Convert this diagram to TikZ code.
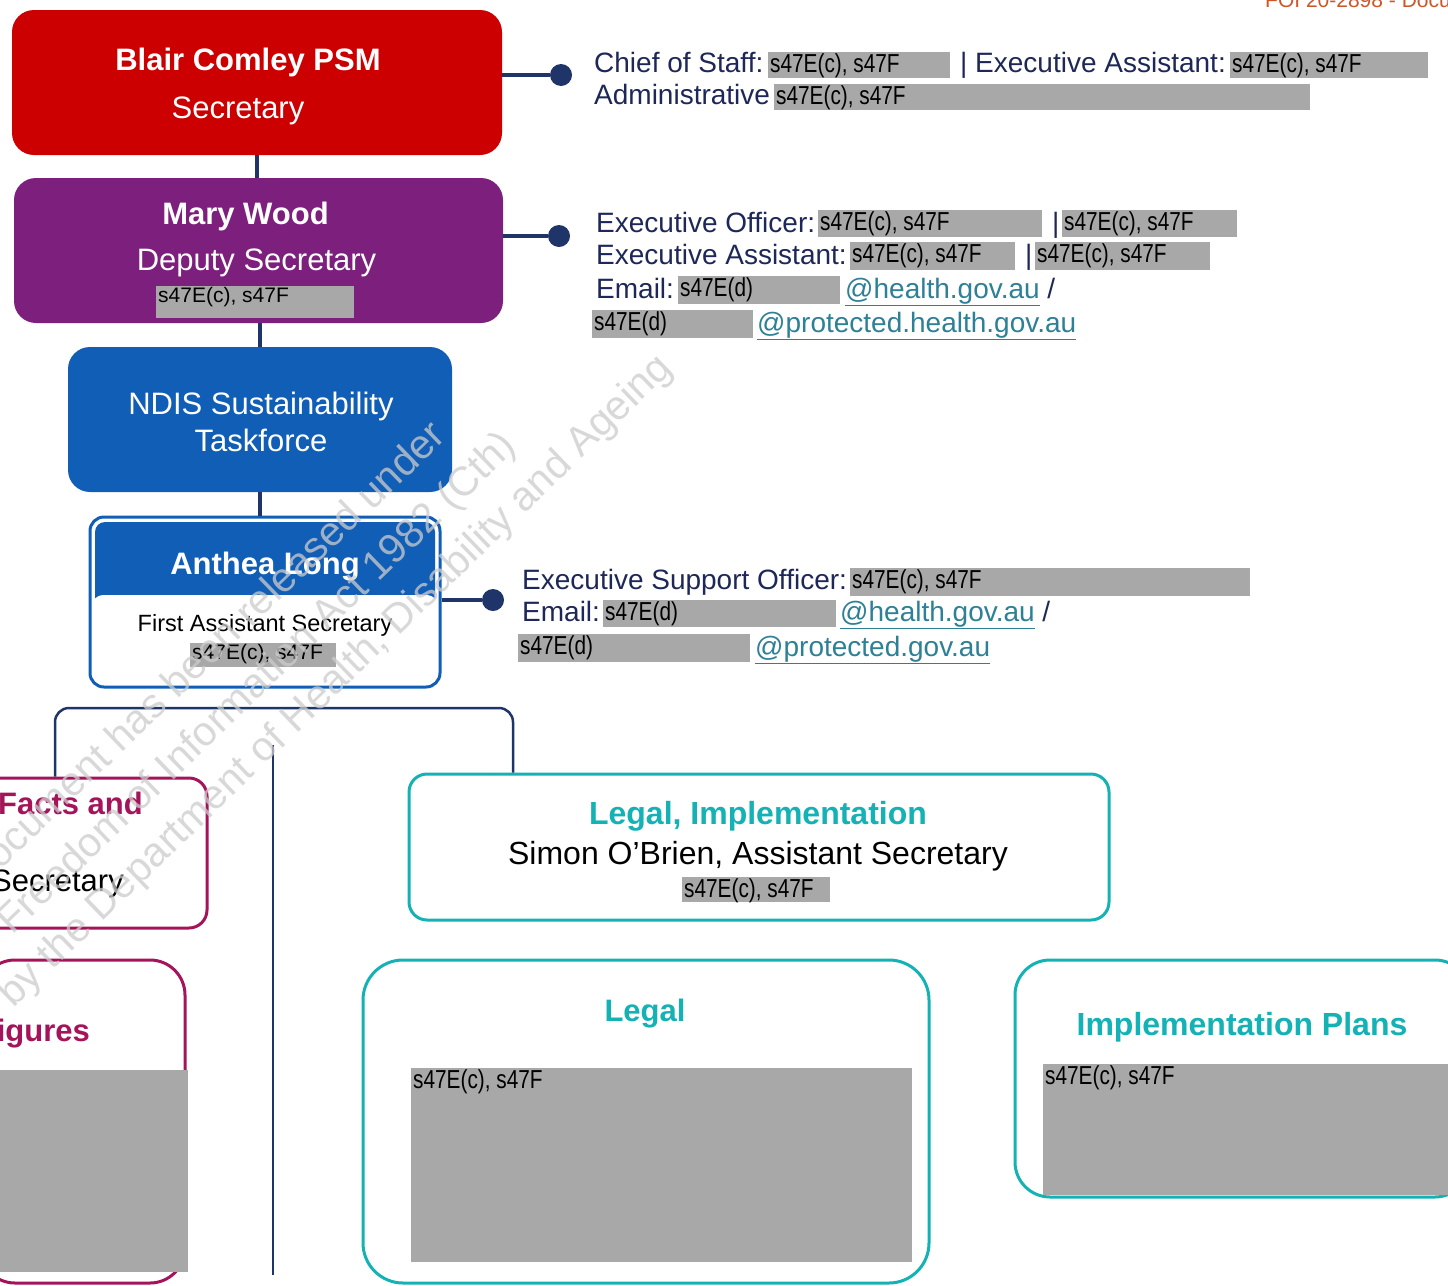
\documentclass[tikz,border=0pt]{standalone}
\usepackage{fontspec}
\setmainfont{Liberation Sans}
\newfontfamily\narrowfont[FakeStretch=0.8]{Liberation Sans}
\usepackage{xcolor}
\usetikzlibrary{positioning,calc}
\definecolor{secred}{RGB}{204,0,0}
\definecolor{deppurple}{RGB}{125,32,125}
\definecolor{ndisblue}{RGB}{17,94,182}
\definecolor{linenavy}{RGB}{31,52,105}
\definecolor{infonavy}{RGB}{30,40,88}
\definecolor{linkteal}{RGB}{45,128,150}
\definecolor{branchteal}{RGB}{20,178,180}
\definecolor{branchcrim}{RGB}{165,20,90}
\definecolor{redactgray}{RGB}{168,168,168}
\definecolor{foiorange}{RGB}{205,85,40}
\newcommand{\plainred}{\normalfont\fontsize{21}{25}\selectfont}
\newcommand{\redact}[6]{%
  \node[redbar, minimum width={#4-#2}, minimum height={#5-#3}] (#1) at (#2,#3) {};
  \node[redtxt] at ([xshift=1pt]#1.north west) {#6};}
\tikzset{
  exbox/.style={rounded corners=22pt, inner sep=0pt},
  boxname/.style={font=\fontsize{31}{37}\selectfont\bfseries, text=white, anchor=base, inner sep=0pt},
  boxrole/.style={font=\fontsize{31}{37}\selectfont, text=white, anchor=base, inner sep=0pt},
  info/.style={font=\fontsize{28}{34}\selectfont, text=infonavy, anchor=base west, inner sep=0pt},
  redbar/.style={fill=redactgray, inner sep=0pt, anchor=north west},
  redtxt/.style={font=\narrowfont\fontsize{26}{30}\selectfont, text=black, anchor=north west, inner sep=1pt},
  link/.style={draw=linenavy, line width=4pt},
  twig/.style={draw=linenavy, line width=2.5pt},
  dot/.style={circle, fill=linenavy, minimum size=22pt, inner sep=0pt},
  tealbox/.style={draw=branchteal, line width=3pt, inner sep=0pt},
  crimbox/.style={draw=branchcrim, line width=3pt, inner sep=0pt},
  tealname/.style={font=\fontsize{32}{38}\selectfont\bfseries, text=branchteal, anchor=base, inner sep=0pt},
  crimname/.style={font=\fontsize{31}{37}\selectfont\bfseries, text=branchcrim, anchor=base east, inner sep=0pt},
  plain/.style={font=\fontsize{31}{37}\selectfont, text=black, anchor=base, inner sep=0pt},
  wmark/.style={font=\fontsize{41}{49}\selectfont, text=gray!40, rotate=44, anchor=base east, inner sep=0pt, opacity=0.75},
}
\begin{document}
\begin{tikzpicture}[x=1pt, y=-1pt]
  \path[use as bounding box, fill=white] (0,0) rectangle (1448,1285);
  \clip (0,0) rectangle (1448,1285);

  \node[font=\fontsize{21}{25}\selectfont, text=foiorange, anchor=base west, inner sep=0pt] (foi) at (1265,7) {FOI 20-2898 - Document};

  \node[exbox, fill=secred, minimum width=490pt, minimum height=145pt] (sec) at (257,82.5) {};
  \node[boxname] (secname) at (248,70) {Blair Comley PSM};
  \node[boxrole] (secrole) at (238,118) {Secretary};

  \node[exbox, fill=deppurple, minimum width=489pt, minimum height=145pt] (dep) at (258.5,250.5) {};
  \node[boxname] (depname) at (245.5,224) {Mary Wood};
  \node[boxrole] (deprole) at (256.5,270) {Deputy Secretary};
  \redact{depr}{156}{286}{354}{318}{\plainred s47E(c), s47F}

  \node[exbox, fill=ndisblue, minimum width=384pt, minimum height=145pt] (ndis) at (260,419.5) {};
  \node[boxrole] (ndis1) at (261,414) {NDIS Sustainability};
  \node[boxrole] (ndis2) at (261,451) {Taskforce};

  \node[draw=ndisblue, line width=3pt, fill=white, rounded corners=14pt, inner sep=0pt,
        minimum width=350pt, minimum height=170pt,
        path picture={\fill[ndisblue, rounded corners=10pt] ([xshift=5pt,yshift=-5pt]path picture bounding box.north west)
          rectangle ([xshift=-5pt,yshift=-92pt]path picture bounding box.north east);
          \fill[white] ([yshift=-78pt]path picture bounding box.north west)
          rectangle ([yshift=-100pt]path picture bounding box.north east);}] (fas) at (265,602) {};
  \node[boxname] (fasname) at (265,574) {Anthea Long};
  \node[plain, font=\fontsize{23.5}{28}\selectfont] (fasrole) at (265,631) {First Assistant Secretary};
  \redact{fasr}{190}{643}{336}{667}{\plainred s47E(c), s47F}

  \draw[link] (sec.south) -- (sec.south |- dep.north);
  \draw[link] (dep.south -| ndis.north) -- (ndis.north);
  \draw[link] (ndis.south) -- (ndis.south |- fas.north);

  \node[dot] (secdot) at (561,75) {};
  \node[dot] (depdot) at (559,236) {};
  \node[dot] (fasdot) at (493,600) {};
  \draw[link] (sec.east |- secdot) -- (secdot);
  \draw[link] (dep.east |- depdot) -- (depdot);
  \draw[link] (fas.east |- fasdot) -- (fasdot);

  \node[info] (cos) at (594,72) {Chief of Staff:};
  \redact{cosr}{768}{52}{950}{78}{s47E(c), s47F}
  \node[info] (secea) at (960,72) {| Executive Assistant:};
  \redact{secear}{1230}{52}{1428}{78}{s47E(c), s47F}
  \node[info] (adm) at (594,104) {Administrative};
  \redact{admr}{774}{84}{1310}{110}{s47E(c), s47F}

  \node[info] (eo) at (596,232) {Executive Officer:};
  \redact{eor}{818}{210}{1042}{237}{s47E(c), s47F}
  \node[info] (eobar) at (1052,232) {|};
  \redact{eor2}{1062}{210}{1237}{237}{s47E(c), s47F}
  \node[info] (depea) at (596,264) {Executive Assistant:};
  \redact{depear}{850}{242}{1015}{270}{s47E(c), s47F}
  \node[info] (depeabar) at (1025,264) {|};
  \redact{depear2}{1035}{242}{1210}{270}{s47E(c), s47F}
  \node[info] (depmail) at (596,298) {Email:};
  \redact{depmailr}{678}{276}{840}{304}{s47E(d)}
  \node[info] (depmail1) at (845,298) {{\color{linkteal}\underline{@health.gov.au}} /};
  \redact{depmailr2}{592}{310}{753}{338}{s47E(d)}
  \node[info, text=linkteal] (depmail2) at (757,332) {\underline{@protected.health.gov.au}};

  \node[info] (eso) at (522,589) {Executive Support Officer:};
  \redact{esor}{850}{568}{1250}{596}{s47E(c), s47F}
  \node[info] (fasmail) at (522,621) {Email:};
  \redact{fasmailr}{603}{600}{836}{627}{s47E(d)}
  \node[info] (fasmail1) at (840,621) {{\color{linkteal}\underline{@health.gov.au}} /};
  \redact{fasmailr2}{518}{634}{750}{662}{s47E(d)}
  \node[info, text=linkteal] (fasmail2) at (755,656) {\underline{@protected.gov.au}};

  \node[crimbox, rounded corners=18pt, minimum width=227pt, minimum height=150pt] (facts) at (93.5,853) {};
  \node[crimname] (factsname) at (143,814) {Facts and};
  \node[plain, anchor=base east] (factsrole) at (124,891) {Secretary};

  \node[crimbox, rounded corners=35pt, minimum width=205pt, minimum height=323pt] (figs) at (82.5,1121.5) {};
  \node[crimname] (figsname) at (90,1041) {Figures};
  \redact{figsr}{-10}{1070}{188}{1272}{}

  \node[tealbox, rounded corners=18pt, minimum width=700pt, minimum height=146pt] (legimp) at (759,847) {};
  \node[tealname] (legimpname) at (758,824) {Legal, Implementation};
  \node[plain, font=\fontsize{32}{38}\selectfont] (legimprole) at (758,864) {Simon O’Brien, Assistant Secretary};
  \redact{legimpr}{682}{877}{830}{902}{s47E(c), s47F}

  \node[tealbox, rounded corners=40pt, minimum width=566pt, minimum height=323pt] (legal) at (646,1121.5) {};
  \node[tealname, font=\fontsize{31}{37}\selectfont\bfseries] (legalname) at (645,1021) {Legal};
  \redact{legalr}{411}{1068}{912}{1262}{s47E(c), s47F}

  \node[tealbox, rounded corners=35pt, minimum width=455pt, minimum height=237pt] (impl) at (1242.5,1078.5) {};
  \node[tealname] (implname) at (1242,1035) {Implementation Plans};
  \redact{implr}{1043}{1064}{1460}{1195}{s47E(c), s47F}

  \coordinate (brl) at (55,708);
  \coordinate (brr) at (513,708);
  \draw[twig, rounded corners=14pt] (facts.north -| brl) -- (brl) -- (brr) -- (legimp.north -| brr);
  \coordinate (spt) at (273,745);
  \coordinate (spb) at (273,1275);
  \draw[twig] (spt) -- (spb);

  \node[wmark] (wm1) at (448,438) {This document has been released under};
  \node[wmark] (wm2) at (518,448) {the Freedom of Information Act 1982 (Cth)};
  \node[wmark] (wm3) at (674,370) {by the Department of Health, Disability and Ageing};
\end{tikzpicture}
\end{document}
